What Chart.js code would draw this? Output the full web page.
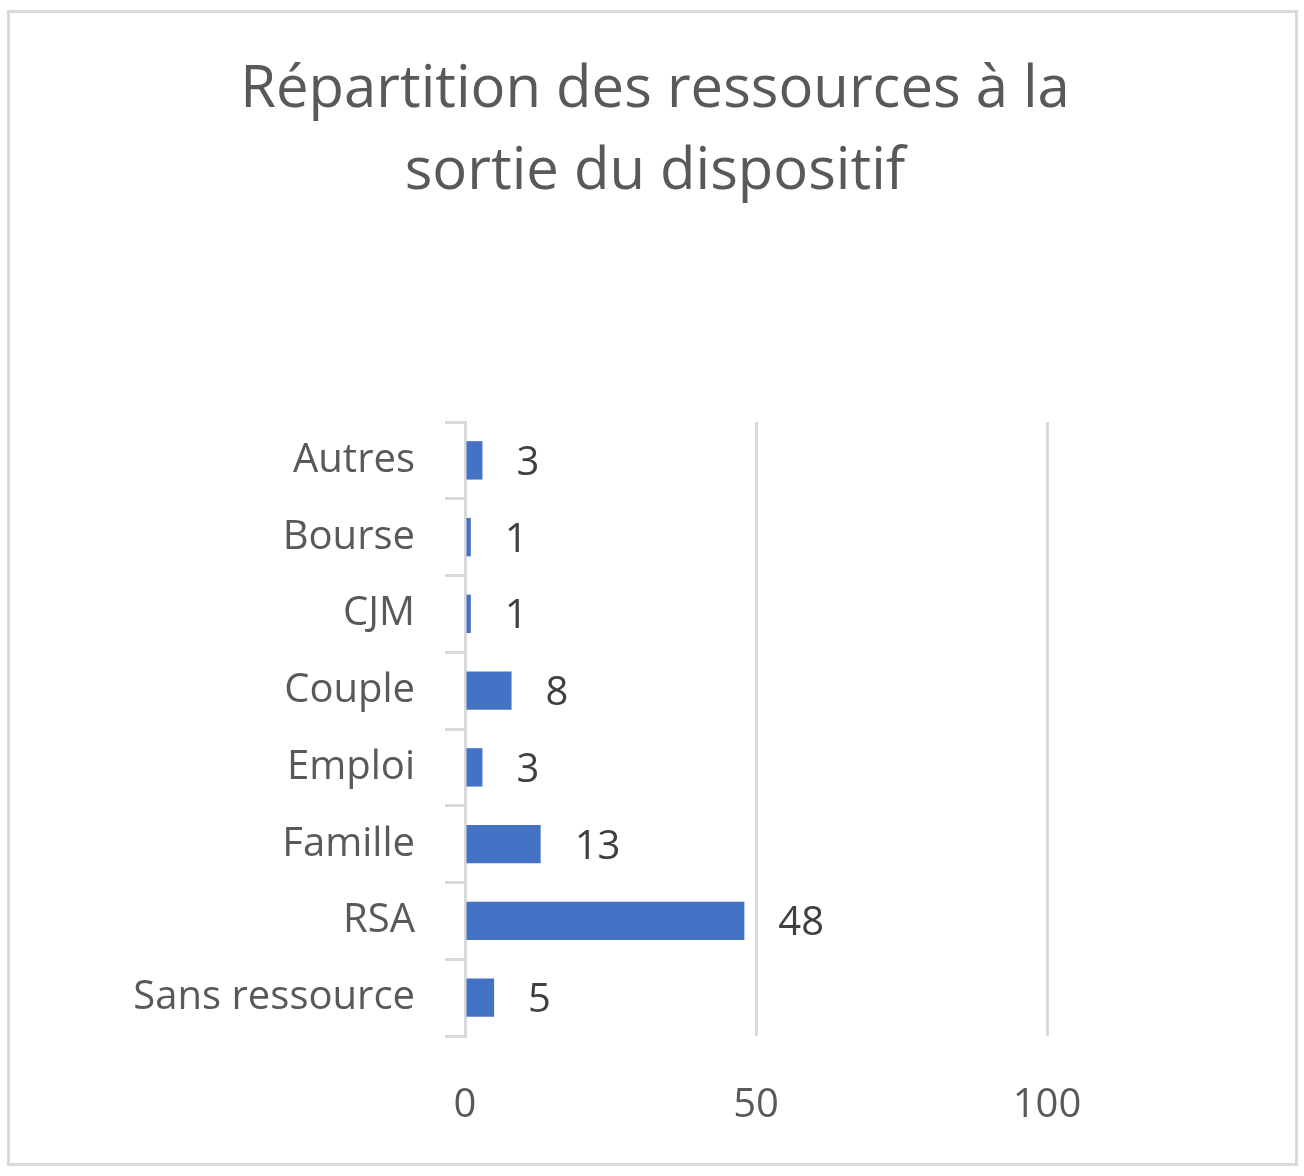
<!DOCTYPE html>
<html><head><meta charset="utf-8">
<script src="https://cdn.jsdelivr.net/npm/chart.js@4"></script>
<style>
html,body{margin:0;padding:0;background:#fff;}
#wrap{position:absolute;left:0;top:0;width:1304px;height:1176px;}
#frame{position:absolute;left:7px;top:10px;width:1285px;height:1150px;border:3px solid #d9d9d9;pointer-events:none;}
</style></head><body>
<div id="wrap"><canvas id="c" width="1304" height="1176"></canvas></div>
<div id="frame"></div>
<script>
const categories = ["Autres","Bourse","CJM","Couple","Emploi","Famille","RSA","Sans ressource"];
const values = [3,1,1,8,3,13,48,5];
const xTicks = [0,50,100];
const titleLines = ["Répartition des ressources à la","sortie du dispositif"];
const FONT = "'Open Sans', Lato, sans-serif";

const labelPlugin = {
  id:'lbl',
  afterDatasetsDraw(chart){
    const ctx = chart.ctx, meta = chart.getDatasetMeta(0);
    ctx.save();
    ctx.font = "40px " + FONT; ctx.fillStyle = "#404040";
    ctx.textBaseline = "middle"; ctx.textAlign = "left";
    meta.data.forEach((b,i)=>{ ctx.fillText(String(values[i]), b.x + 34, b.y + 3); });
    ctx.restore();
  },
  afterDraw(chart){
    const ctx = chart.ctx;
    ctx.save();
    ctx.font = "58px " + FONT; ctx.fillStyle = "#595959";
    ctx.textAlign = "center"; ctx.textBaseline = "middle";
    ctx.fillText(titleLines[0], 655, 90);
    ctx.fillText(titleLines[1], 655, 172);
    ctx.restore();
  }
};

new Chart(document.getElementById('c'), {
  type:'bar',
  data:{labels:categories, datasets:[{data:values, backgroundColor:'#4472c4', categoryPercentage:0.5, barPercentage:1}]},
  options:{
    indexAxis:'y', responsive:false, animation:false, devicePixelRatio:1,
    layout:{padding:{top:422,bottom:40,left:0,right:257}},
    plugins:{legend:{display:false}, tooltip:{enabled:false}},
    scales:{
      x:{min:0,max:100,
        afterFit(s){s.height=100;},
        afterBuildTicks(s){s.ticks = xTicks.map(v=>({value:v}));},
        ticks:{font:{size:40,family:FONT},color:'#595959',padding:46},
        grid:{color:'#d9d9d9',lineWidth:3,drawTicks:false},
        border:{display:false}},
      y:{
        afterFit(s){s.width=465;},
        ticks:{font:{size:40,family:FONT},color:'#595959',padding:30},
        grid:{offset:true,drawOnChartArea:false,color:'#d9d9d9',lineWidth:3,tickLength:20},
        border:{display:true,color:'#d9d9d9',width:3}}
    }
  },
  plugins:[labelPlugin]
});
</script></body></html>
